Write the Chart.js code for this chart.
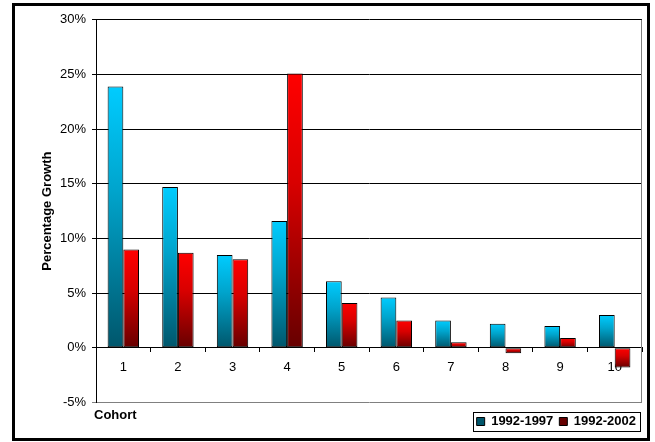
<!DOCTYPE html>
<html>
<head>
<meta charset="utf-8">
<title>Percentage Growth by Cohort</title>
<script src="https://cdn.jsdelivr.net/npm/chart.js@4.4.1/dist/chart.umd.min.js"></script>
<style>
  html, body { margin: 0; padding: 0; background: #fff; }
  #frame { position: absolute; left: 12px; top: 3px; width: 632px; height: 432px; border: 3px solid #000; background: #fff; }
  #frame canvas { display: block; }
</style>
</head>
<body>
<div id="frame"><canvas id="growthChart"></canvas></div>
<script>
// cohorts and growth over the two periods (%)
var cohorts = ['1', '2', '3', '4', '5', '6', '7', '8', '9', '10'];
var growth1997 = [23.9, 14.7, 8.5, 11.6, 6.1, 4.6, 2.5, 2.2, 2.0, 3.0];
var growth2002 = [9.0, 8.7, 8.1, 25.1, 4.1, 2.5, 0.5, -0.5, 0.9, -1.8];
var seriesNames = ['1992-1997', '1992-2002'];
var yMin = -5, yMax = 30, yStep = 5;

var FONT = "'Liberation Sans', Arial, sans-serif";

// vertical gradient over each bar, bright at the top edge, dark at the bottom edge
function barFill(stops, flat) {
  return function (ctx) {
    var chart = ctx.chart;
    if (ctx.type !== 'data' || !chart.chartArea) return flat;
    var y = chart.scales.y;
    var v = ctx.raw;
    var top = y.getPixelForValue(Math.max(v, 0));
    var bottom = y.getPixelForValue(Math.min(v, 0));
    if (bottom - top < 1) return stops[0];
    var g = chart.ctx.createLinearGradient(0, top, 0, bottom);
    g.addColorStop(0, stops[0]);
    g.addColorStop(0.4, stops[1]);
    g.addColorStop(1, stops[2]);
    return g;
  };
}

// plot frame, legend box and the "Cohort" caption
var extras = {
  id: 'extras',
  beforeDatasetsDraw: function (chart) {
    var a = chart.chartArea, c = chart.ctx;
    c.save();
    c.strokeStyle = '#808080';
    c.lineWidth = 1;
    c.beginPath();
    c.moveTo(Math.round(a.right) - 0.5, a.top);
    c.lineTo(Math.round(a.right) - 0.5, a.bottom);
    c.stroke();
    c.restore();
  },
  afterDraw: function (chart) {
    var c = chart.ctx, a = chart.chartArea;
    var hb = chart.legend.legendHitBoxes;
    if (hb && hb.length) {
      var first = hb[0], last = hb[hb.length - 1];
      var cy = first.top + first.height / 2;
      var x0 = Math.round(first.left - 4) + 0.5;
      var x1 = Math.round(last.left + last.width + 4) + 0.5;
      c.save();
      c.strokeStyle = '#000';
      c.lineWidth = 1;
      c.strokeRect(x0, Math.round(cy - 10) + 0.5, x1 - x0, 19);
      c.restore();
    }
    c.save();
    c.font = 'bold 13px ' + FONT;
    c.fillStyle = '#000';
    c.textBaseline = 'middle';
    c.fillText('Cohort', a.left - 2, a.bottom + 12.5);
    c.restore();
  }
};

var ctx = document.getElementById('growthChart').getContext('2d');
var growthChart = new Chart(ctx, {
  type: 'bar',
  data: {
    labels: cohorts,
    datasets: [{
      label: seriesNames[0],
      data: growth1997,
      backgroundColor: barFill(['#00CCFF', '#00A4CC', '#00566B'], '#00A8D8'),
      borderColor: '#000',
      borderWidth: 1,
      borderSkipped: false,
      categoryPercentage: 0.575,
      barPercentage: 1.0
    }, {
      label: seriesNames[1],
      data: growth2002,
      backgroundColor: barFill(['#FF0000', '#D80000', '#660000'], '#D00000'),
      borderColor: '#000',
      borderWidth: 1,
      borderSkipped: false,
      categoryPercentage: 0.575,
      barPercentage: 1.0
    }]
  },
  options: {
    responsive: true,
    maintainAspectRatio: false,
    animation: false,
    layout: { padding: { left: 26, top: 13, right: 5, bottom: 0 } },
    plugins: {
      legend: {
        position: 'bottom',
        align: 'end',
        labels: {
          boxWidth: 8,
          boxHeight: 8,
          padding: 6,
          color: '#000',
          font: { family: FONT, size: 13, weight: 'bold' }
        }
      },
      tooltip: { enabled: false }
    },
    scales: {
      x: {
        type: 'category',
        position: { y: 0 },
        offset: true,
        grid: { offset: true, drawOnChartArea: false, drawTicks: true, tickLength: 4, color: '#000' },
        border: { display: true, color: '#000' },
        ticks: { color: '#000', padding: 8, font: { family: FONT, size: 13 } }
      },
      // empty strip between the plot and the legend
      xGap: {
        type: 'category',
        position: 'bottom',
        grid: { display: false },
        border: { display: false },
        ticks: { display: false },
        afterFit: function (scale) { scale.height = 6.5; }
      },
      y: {
        min: yMin,
        max: yMax,
        ticks: {
          stepSize: yStep,
          padding: 6,
          color: '#000',
          font: { family: FONT, size: 13 },
          callback: function (v) { return v + '%'; }
        },
        grid: {
          color: function (c) { return c.tick && c.tick.value === yMin ? '#808080' : '#000'; },
          drawTicks: true,
          tickLength: 4
        },
        border: { display: true, color: '#000' },
        title: {
          display: true,
          text: 'Percentage Growth',
          color: '#000',
          padding: { top: 0, bottom: 0 },
          font: { family: FONT, size: 13, weight: 'bold', lineHeight: 1 }
        }
      }
    }
  },
  plugins: [extras]
});
</script>
</body>
</html>
